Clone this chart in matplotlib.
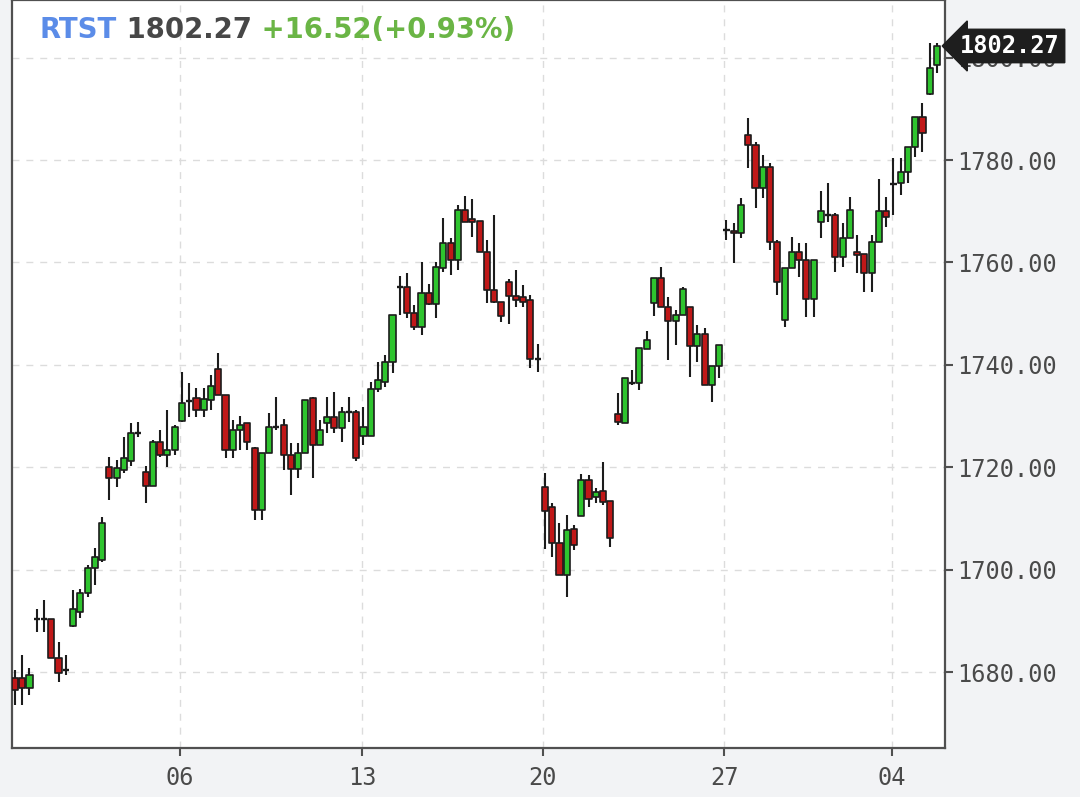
import matplotlib
matplotlib.use("Agg")
import matplotlib.pyplot as plt
from matplotlib.patches import Rectangle
from matplotlib.collections import LineCollection, PatchCollection

# ---------------- data ----------------
opens = [1678.8, 1678.8, 1676.9, 1690.4, 1690.3, 1690.3, 1682.7, 1680.4, 1689.0, 1691.7,
         1695.4, 1700.3, 1701.9, 1720.0, 1717.9, 1719.4, 1721.2, 1726.7, 1719.1, 1716.3,
         1724.9, 1722.4, 1723.4, 1729.0, 1732.9, 1733.5, 1731.2, 1733.1, 1739.2, 1734.1,
         1723.4, 1727.3, 1728.6, 1723.8, 1711.6, 1722.8, 1727.8, 1728.2, 1722.4, 1719.6,
         1722.8, 1733.5, 1724.3, 1728.6, 1729.8, 1727.6, 1730.8, 1730.8, 1726.1, 1726.1,
         1735.3, 1736.6, 1740.5, 1755.2, 1755.2, 1750.1, 1747.4, 1754.0, 1751.9, 1758.9,
         1763.8, 1760.5, 1770.2, 1768.5, 1768.1, 1762.0, 1754.6, 1752.3, 1756.2, 1753.4,
         1753.2, 1752.7, 1741.1, 1716.1, 1712.2, 1705.2, 1698.9, 1707.9, 1710.5, 1717.5,
         1714.2, 1715.4, 1713.4, 1730.4, 1728.6, 1736.4, 1736.4, 1743.1, 1752.1, 1757.0,
         1751.3, 1748.6, 1749.7, 1751.3, 1743.7, 1746.0, 1736.1, 1739.8, 1766.3, 1766.1,
         1765.7, 1784.9, 1782.9, 1774.5, 1778.6, 1764.0, 1748.8, 1758.9, 1762.0, 1760.5,
         1752.9, 1767.9, 1769.3, 1769.3, 1761.0, 1764.8, 1762.0, 1761.6, 1757.9, 1764.0,
         1770.0, 1775.3, 1775.5, 1777.7, 1782.5, 1788.4, 1792.9, 1798.6]
highs = [1680.4, 1683.3, 1680.8, 1692.3, 1694.1, 1690.3, 1685.9, 1683.3, 1696.0, 1696.2,
         1700.9, 1704.2, 1710.3, 1722.0, 1721.4, 1725.9, 1728.6, 1728.8, 1720.2, 1725.3,
         1727.3, 1731.2, 1728.2, 1738.6, 1736.4, 1735.5, 1735.5, 1738.0, 1742.3, 1734.1,
         1729.2, 1730.0, 1728.6, 1723.9, 1722.8, 1730.6, 1733.7, 1729.4, 1724.7, 1724.7,
         1733.1, 1733.7, 1729.2, 1733.7, 1734.7, 1731.8, 1733.7, 1731.2, 1731.8, 1736.6,
         1740.5, 1741.9, 1749.7, 1757.3, 1757.9, 1751.7, 1760.1, 1755.8, 1760.1, 1768.7,
         1764.8, 1771.2, 1773.0, 1772.4, 1768.1, 1764.4, 1769.3, 1752.3, 1756.8, 1758.5,
         1755.6, 1753.6, 1744.1, 1718.9, 1713.0, 1709.1, 1710.7, 1708.7, 1718.7, 1718.5,
         1715.9, 1721.0, 1713.4, 1734.5, 1737.4, 1739.0, 1743.3, 1746.6, 1757.0, 1759.1,
         1753.2, 1750.7, 1755.2, 1751.3, 1747.8, 1747.2, 1739.8, 1743.9, 1768.3, 1767.7,
         1772.6, 1788.2, 1783.5, 1781.0, 1779.4, 1764.4, 1758.9, 1765.0, 1763.8, 1763.8,
         1760.5, 1773.9, 1775.5, 1769.7, 1767.7, 1772.8, 1765.4, 1761.6, 1765.4, 1776.3,
         1772.8, 1780.4, 1780.4, 1782.5, 1788.4, 1791.1, 1802.9, 1802.8]
lows = [1673.6, 1673.6, 1675.5, 1687.8, 1687.8, 1682.7, 1678.0, 1679.4, 1688.8, 1690.5,
        1694.7, 1697.0, 1701.5, 1713.6, 1716.1, 1718.9, 1720.2, 1725.9, 1713.0, 1716.3,
        1722.0, 1720.0, 1722.4, 1728.8, 1729.8, 1729.8, 1729.8, 1731.2, 1734.1, 1721.8,
        1721.8, 1723.4, 1723.4, 1709.7, 1709.7, 1722.8, 1727.3, 1719.4, 1714.6, 1717.9,
        1722.8, 1717.9, 1724.3, 1726.7, 1726.7, 1724.9, 1728.8, 1721.2, 1724.3, 1726.1,
        1734.7, 1735.7, 1738.4, 1749.7, 1749.1, 1746.8, 1745.8, 1751.7, 1749.1, 1758.1,
        1757.5, 1758.5, 1767.9, 1765.0, 1762.0, 1752.1, 1752.1, 1748.4, 1748.0, 1751.3,
        1751.3, 1739.4, 1738.6, 1704.0, 1702.5, 1698.9, 1694.6, 1703.8, 1710.5, 1712.2,
        1713.0, 1712.6, 1704.4, 1728.2, 1728.6, 1736.1, 1735.1, 1743.1, 1749.5, 1751.3,
        1740.9, 1743.9, 1749.7, 1737.6, 1740.5, 1736.1, 1732.7, 1737.4, 1764.4, 1759.9,
        1764.8, 1778.4, 1770.6, 1772.6, 1762.4, 1753.6, 1747.4, 1758.9, 1757.2, 1749.3,
        1749.3, 1764.8, 1767.9, 1758.1, 1759.1, 1764.8, 1757.9, 1754.2, 1754.2, 1764.0,
        1766.9, 1769.3, 1773.2, 1775.5, 1780.6, 1781.6, 1792.7, 1797.0]
closes = [1676.5, 1676.9, 1679.4, 1690.3, 1690.3, 1682.7, 1679.8, 1680.4, 1692.3, 1695.4,
          1700.3, 1702.5, 1709.1, 1717.9, 1719.8, 1721.8, 1726.7, 1726.7, 1716.3, 1724.9,
          1722.4, 1723.4, 1727.8, 1732.5, 1732.9, 1731.2, 1733.3, 1735.9, 1734.1, 1723.4,
          1727.3, 1728.2, 1724.9, 1711.6, 1722.8, 1727.8, 1727.8, 1722.4, 1719.6, 1722.8,
          1733.1, 1724.3, 1727.3, 1729.8, 1727.6, 1730.8, 1730.8, 1721.8, 1727.8, 1735.3,
          1737.0, 1740.5, 1749.7, 1755.2, 1750.1, 1747.4, 1754.0, 1751.9, 1759.1, 1763.8,
          1760.5, 1770.2, 1767.9, 1767.9, 1762.0, 1754.6, 1752.3, 1749.5, 1753.4, 1752.7,
          1752.3, 1741.1, 1741.1, 1711.4, 1705.2, 1698.9, 1707.7, 1704.8, 1717.5, 1713.8,
          1715.2, 1713.2, 1706.2, 1728.8, 1737.4, 1736.4, 1743.3, 1744.8, 1757.0, 1751.3,
          1748.6, 1749.7, 1754.8, 1743.7, 1746.0, 1736.1, 1739.8, 1743.9, 1766.3, 1765.7,
          1771.2, 1782.9, 1774.5, 1778.6, 1764.0, 1756.2, 1758.9, 1762.0, 1760.5, 1752.9,
          1760.5, 1770.0, 1769.3, 1761.0, 1764.8, 1770.2, 1761.4, 1757.9, 1764.0, 1770.0,
          1768.9, 1775.3, 1777.7, 1782.5, 1788.4, 1785.3, 1798.0, 1802.27]

x_tick_labels = ["06", "13", "20", "27", "04"]
x_tick_pos = [22.7, 47.8, 72.7, 97.7, 120.8]      # candle-index positions of day boundaries
y_ticks = [1680, 1700, 1720, 1740, 1760, 1780, 1800]

symbol = "RTST"
last_price = 1802.27
change = 16.52
change_pct = 0.93

# ---------------- style ----------------
UP = "#2ec42e"
DOWN = "#c01818"
EDGE = "#1c1c1c"
BG = "#f2f3f5"
TXT = "#4a4a4a"
BODY_W = 0.84

fig = plt.figure(figsize=(10.8, 7.97), dpi=100, facecolor=BG)
ax = fig.add_axes([12 / 1080, 49 / 797, 933 / 1080, 748 / 797])
ax.set_facecolor("white")

n = len(opens)
wick_segs = []
bodies_up, bodies_down = [], []
doji_segs = []
for i in range(n):
    o, h, l, c = opens[i], highs[i], lows[i], closes[i]
    wick_segs.append([(i, l), (i, h)])
    lo, hi = min(o, c), max(o, c)
    if hi - lo < 0.25:
        doji_segs.append([(i - BODY_W / 2, c), (i + BODY_W / 2, c)])
    else:
        r = Rectangle((i - BODY_W / 2, lo), BODY_W, hi - lo)
        (bodies_up if c > o else bodies_down).append(r)

ax.add_collection(LineCollection(wick_segs, colors=EDGE, linewidths=1.5, zorder=3))
ax.add_collection(LineCollection(doji_segs, colors=EDGE, linewidths=1.7, zorder=4))
ax.add_collection(PatchCollection(bodies_up, facecolor=UP, edgecolor=EDGE, linewidths=1.2, zorder=4))
ax.add_collection(PatchCollection(bodies_down, facecolor=DOWN, edgecolor=EDGE, linewidths=1.2, zorder=4))

ax.set_xlim(-0.41, 128.1)
ax.set_ylim(1665.16, 1811.25)

ax.set_xticks(x_tick_pos)
ax.set_xticklabels(x_tick_labels)
ax.set_yticks(y_ticks)
ax.set_yticklabels([f"{v:.2f}" for v in y_ticks])
ax.yaxis.tick_right()

ax.grid(True, color="#dcdcdc", linestyle=(0, (5, 5)), linewidth=1.0, zorder=0)
ax.set_axisbelow(True)

for s in ax.spines.values():
    s.set_color("#505050")
    s.set_linewidth(1.6)

mono = "DejaVu Sans Mono"
ax.tick_params(axis="y", direction="out", length=6, width=1.5, color="#505050",
               labelcolor=TXT, labelsize=17, pad=3)
ax.tick_params(axis="x", direction="out", length=6, width=1.5, color="#505050",
               labelcolor=TXT, labelsize=17, pad=7)
for lab in ax.get_xticklabels() + ax.get_yticklabels():
    lab.set_fontfamily(mono)

# header text
HS = 19.8
t1 = ax.text(28 / 933, 1 - 30 / 748, symbol, transform=ax.transAxes, fontsize=HS,
             fontweight="bold", color="#5b8ce8", va="center", ha="left", family="DejaVu Sans")
t2 = ax.annotate(f" {last_price:.2f}", xy=(1, 0.5), xycoords=t1, va="center", ha="left",
                 fontsize=HS, fontweight="bold", color="#474747", family="DejaVu Sans")
t3 = ax.annotate(f" +{change:.2f}(+{change_pct:.2f}%)", xy=(1, 0.5), xycoords=t2, va="center",
                 ha="left", fontsize=HS, fontweight="bold", color="#6ab545", family="DejaVu Sans")

# last price tag
ax.annotate(f"{last_price:.2f}", xy=(1.0, last_price), xycoords=("axes fraction", "data"),
            xytext=(11, 0), textcoords="offset points", va="center", ha="left",
            fontsize=17, family=mono, fontweight="bold", color="white",
            annotation_clip=False, zorder=10,
            bbox=dict(boxstyle="larrow,pad=0.2", fc="#1e1e1e", ec="#1e1e1e"))

fig.savefig("out.png", dpi=100, facecolor=BG)
